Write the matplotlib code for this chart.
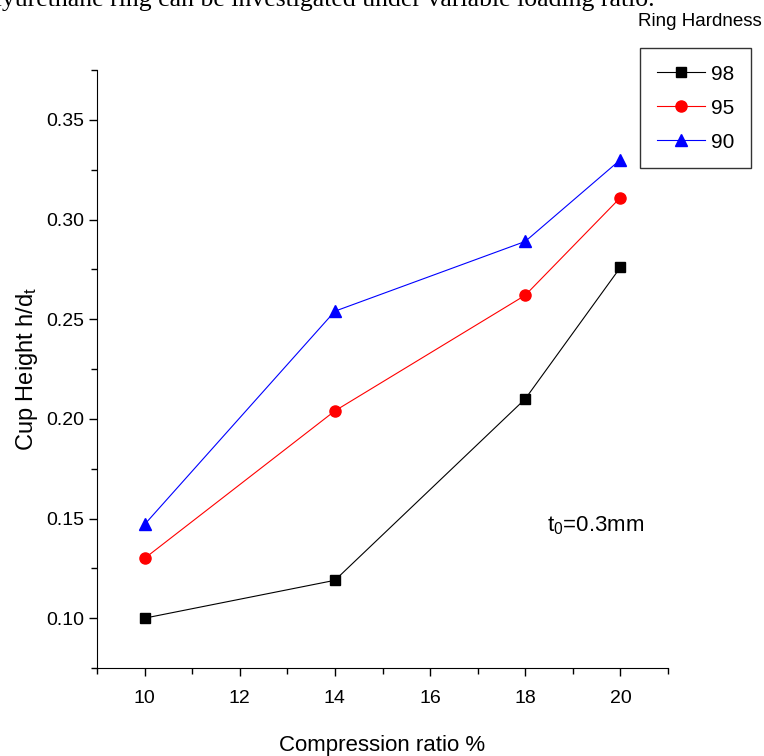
import matplotlib.pyplot as plt
from matplotlib.ticker import MultipleLocator

plt.rcParams['font.family'] = ['Liberation Sans', 'DejaVu Sans']
plt.rcParams['mathtext.default'] = 'regular'

ratio = [10, 14, 18, 20]
hard_98 = [0.100, 0.119, 0.210, 0.276]
hard_95 = [0.130, 0.204, 0.262, 0.311]
hard_90 = [0.147, 0.254, 0.289, 0.330]

fig = plt.figure(figsize=(7.64, 7.56), dpi=100)
ax = fig.add_axes([97 / 764, 1 - 668 / 756, (668 - 97) / 764, (668 - 70) / 756])

ax.plot(ratio, hard_98, color='black', marker='s', markersize=7.5, linewidth=0.8, label='98')
ax.plot(ratio, hard_95, color='red', marker='o', markersize=8, linewidth=0.8, label='95')
ax.plot(ratio, hard_90, color='blue', marker='^', markersize=9, linewidth=0.8, label='90')

ax.set_xlim(9, 21)
ax.set_ylim(0.075, 0.375)
ax.xaxis.set_major_locator(MultipleLocator(2))
ax.xaxis.set_minor_locator(MultipleLocator(1))
ax.yaxis.set_major_locator(MultipleLocator(0.05))
ax.yaxis.set_minor_locator(MultipleLocator(0.025))
ax.yaxis.set_major_formatter(plt.FormatStrFormatter('%.2f'))
ax.spines['top'].set_visible(False)
ax.spines['right'].set_visible(False)
ax.tick_params(which='major', direction='out', length=6, width=1, labelsize=14)
ax.tick_params(which='minor', direction='out', length=4, width=1)
ax.tick_params(axis='x', pad=10)

ax.set_xlabel('Compression ratio %', fontsize=16, labelpad=20)
ax.set_ylabel('Cup Height h/d$_t$', fontsize=17, labelpad=4)

ax.text(18.45, 0.1465, 't$_0$=0.3mm', fontsize=16, va='center', ha='left')

leg = fig.legend(loc='upper right', bbox_to_anchor=(751 / 764, 1 - 48 / 756),
                 fontsize=15, handlelength=2.3, labelspacing=0.72, borderaxespad=0,
                 fancybox=False, edgecolor='#333333', framealpha=1,
                 borderpad=0.8, handletextpad=0.3)
leg.get_frame().set_linewidth(1)

fig.text(762 / 764, 1 - 22 / 756, 'Ring Hardness', fontsize=13.5, ha='right', va='center')
fig.text(655 / 764, 1 - 6 / 756, 'polyurethane ring can be investigated under variable loading ratio.',
         fontsize=18.5, ha='right', va='baseline', family='Liberation Serif')

fig.savefig('out.png', dpi=100)
